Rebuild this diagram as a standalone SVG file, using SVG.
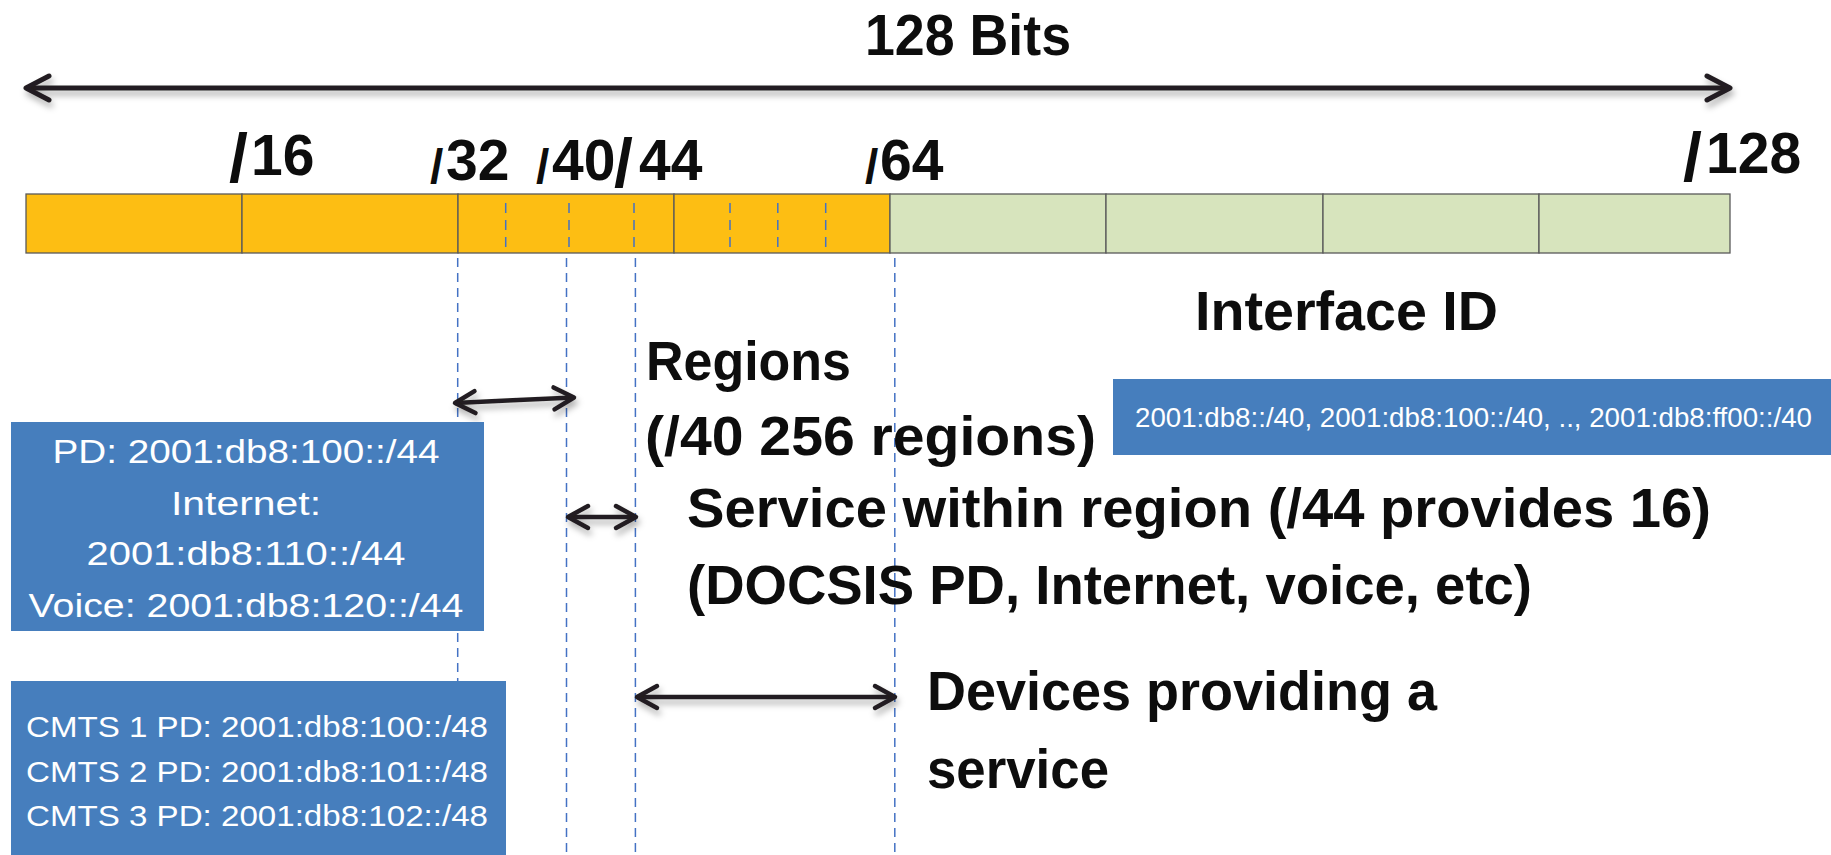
<svg xmlns="http://www.w3.org/2000/svg" width="1831" height="855" viewBox="0 0 1831 855">
  <defs>
    <style>
      .big { font-family: "Liberation Sans", Arial, sans-serif; font-weight: bold; font-size: 56px; fill: #0d0d0d; }
      .pfx { font-family: "Liberation Sans", Arial, sans-serif; font-weight: bold; font-size: 57px; fill: #0d0d0d; }
      .sl { font-size: 48px; }
      .sl-big { font-size: 68px; }
      .box { fill: #467ebd; }
      .boxtxt { font-family: "Liberation Sans", Arial, sans-serif; fill: #ffffff; }
      .seg-o { fill: #fdbe13; stroke: #5a5a5a; stroke-width: 1.3; }
      .seg-g { fill: #d7e4bd; stroke: #5a5a5a; stroke-width: 1.3; }
      .tick { stroke: #4472c4; stroke-width: 1.5; stroke-dasharray: 10 7; fill: none; }
      .guide { stroke: #4472c4; stroke-width: 1.5; stroke-dasharray: 9 6; fill: none; }
      .arrow { stroke: #231f20; stroke-width: 5; fill: none; marker-start: url(#chev); marker-end: url(#chev); }
      .arrow-s { stroke: #231f20; stroke-width: 4.5; fill: none; marker-start: url(#chevS); marker-end: url(#chevS); }
    </style>
    <marker id="chev" markerUnits="userSpaceOnUse" viewBox="0 0 30 30" refX="26" refY="15" markerWidth="30" markerHeight="30" orient="auto-start-reverse">
      <path d="M3 3 L26 15 L3 27" fill="none" stroke="#231f20" stroke-width="5" stroke-linecap="round" stroke-linejoin="round"/>
    </marker>
    <marker id="chevS" markerUnits="userSpaceOnUse" viewBox="0 0 30 30" refX="26" refY="15" markerWidth="30" markerHeight="30" orient="auto-start-reverse">
      <path d="M6 4 L26 15 L6 26" fill="none" stroke="#231f20" stroke-width="4.5" stroke-linecap="round" stroke-linejoin="round"/>
    </marker>
    <filter id="shadow" x="-5%" y="-50%" width="110%" height="200%">
      <feDropShadow dx="2" dy="5" stdDeviation="3" flood-color="#000000" flood-opacity="0.3"/>
    </filter>
  </defs>

  <rect width="1831" height="855" fill="#ffffff"/>

  <!-- title -->
  <g id="title">
    <text class="pfx" x="865" y="55" textLength="206" lengthAdjust="spacingAndGlyphs">128 Bits</text>
  </g>

  <!-- prefix length markers above the bar -->
  <g id="prefix-labels">
    <g id="p16">
      <text class="pfx sl-big" x="229" y="182">/</text>
      <text class="pfx" x="251" y="175">16</text>
    </g>
    <g id="p32">
      <text class="pfx sl" x="430" y="183">/</text>
      <text class="pfx" x="446" y="180">32</text>
    </g>
    <g id="p40-44">
      <text class="pfx sl" x="536" y="183">/</text>
      <text class="pfx" x="552" y="180">40</text>
      <text class="pfx sl-big" x="614" y="187">/</text>
      <text class="pfx" x="639" y="180">44</text>
    </g>
    <g id="p64">
      <text class="pfx sl" x="865" y="183">/</text>
      <text class="pfx" x="880" y="180">64</text>
    </g>
    <g id="p128">
      <text class="pfx sl-big" x="1683" y="181">/</text>
      <text class="pfx" x="1706" y="173">128</text>
    </g>
  </g>

  <!-- 128-bit address bar -->
  <g id="bar">
    <rect class="seg-o" x="26" y="194" width="216" height="59"/>
    <rect class="seg-o" x="242" y="194" width="216" height="59"/>
    <rect class="seg-o" x="458" y="194" width="216" height="59"/>
    <rect class="seg-o" x="674" y="194" width="216" height="59"/>
    <rect class="seg-g" x="890" y="194" width="216" height="59"/>
    <rect class="seg-g" x="1106" y="194" width="217" height="59"/>
    <rect class="seg-g" x="1323" y="194" width="216" height="59"/>
    <rect class="seg-g" x="1539" y="194" width="191" height="59"/>
    <line class="tick" x1="505.7" y1="203" x2="505.7" y2="252"/>
    <line class="tick" x1="569" y1="203" x2="569" y2="252"/>
    <line class="tick" x1="634" y1="203" x2="634" y2="252"/>
    <line class="tick" x1="730" y1="203" x2="730" y2="252"/>
    <line class="tick" x1="777.8" y1="203" x2="777.8" y2="252"/>
    <line class="tick" x1="825.7" y1="203" x2="825.7" y2="252"/>
  </g>

  <!-- guide lines dropping from the bar -->
  <g id="guides">
    <line class="guide" x1="457.7" y1="258" x2="457.7" y2="681"/>
    <line class="guide" x1="566.5" y1="258" x2="566.5" y2="855"/>
    <line class="guide" x1="635.4" y1="258" x2="635.4" y2="855"/>
    <line class="guide" x1="894.8" y1="258" x2="894.8" y2="855"/>
  </g>

  <!-- span arrows -->
  <g id="connectors" filter="url(#shadow)">
    <line class="arrow" x1="26" y1="88" x2="1730" y2="88"/>
    <line class="arrow-s" x1="455" y1="403" x2="574" y2="397.5"/>
    <line class="arrow-s" x1="568" y1="517" x2="636" y2="517"/>
    <line class="arrow-s" x1="637" y1="697" x2="895" y2="697"/>
  </g>

  <g id="interface-id">
    <text class="big" x="1195" y="330" textLength="303" lengthAdjust="spacingAndGlyphs">Interface ID</text>
  </g>

  <g id="regions-label">
    <text class="big" x="646" y="380" textLength="205" lengthAdjust="spacingAndGlyphs">Regions</text>
    <text class="big" x="645" y="455" textLength="451" lengthAdjust="spacingAndGlyphs">(/40 256 regions)</text>
  </g>

  <g id="service-label">
    <text class="big" x="687" y="527" textLength="1024" lengthAdjust="spacingAndGlyphs">Service within region (/44 provides 16)</text>
    <text class="big" x="687" y="604" textLength="845" lengthAdjust="spacingAndGlyphs">(DOCSIS PD, Internet, voice, etc)</text>
  </g>

  <g id="devices-label">
    <text class="big" x="927" y="710" textLength="510" lengthAdjust="spacingAndGlyphs">Devices providing a</text>
    <text class="big" x="927" y="788" textLength="182" lengthAdjust="spacingAndGlyphs">service</text>
  </g>

  <!-- example allocations -->
  <g id="region-box">
    <rect class="box" x="1113" y="379" width="718" height="76"/>
    <text class="boxtxt" x="1135" y="427" font-size="27" textLength="677" lengthAdjust="spacingAndGlyphs">2001:db8::/40, 2001:db8:100::/40, .., 2001:db8:ff00::/40</text>
  </g>

  <g id="service-box">
    <rect class="box" x="11" y="422" width="473" height="209"/>
    <g class="boxtxt" font-size="34" text-anchor="middle">
      <text x="246" y="463" textLength="387" lengthAdjust="spacingAndGlyphs">PD: 2001:db8:100::/44</text>
      <text x="246" y="515" textLength="150" lengthAdjust="spacingAndGlyphs">Internet:</text>
      <text x="246" y="565" textLength="319" lengthAdjust="spacingAndGlyphs">2001:db8:110::/44</text>
      <text x="246" y="617" textLength="435" lengthAdjust="spacingAndGlyphs">Voice: 2001:db8:120::/44</text>
    </g>
  </g>

  <g id="device-box">
    <rect class="box" x="11" y="681" width="495" height="174"/>
    <g class="boxtxt" font-size="30">
      <text x="26" y="737" textLength="462" lengthAdjust="spacingAndGlyphs">CMTS 1 PD: 2001:db8:100::/48</text>
      <text x="26" y="782" textLength="462" lengthAdjust="spacingAndGlyphs">CMTS 2 PD: 2001:db8:101::/48</text>
      <text x="26" y="826" textLength="462" lengthAdjust="spacingAndGlyphs">CMTS 3 PD: 2001:db8:102::/48</text>
    </g>
  </g>
</svg>
